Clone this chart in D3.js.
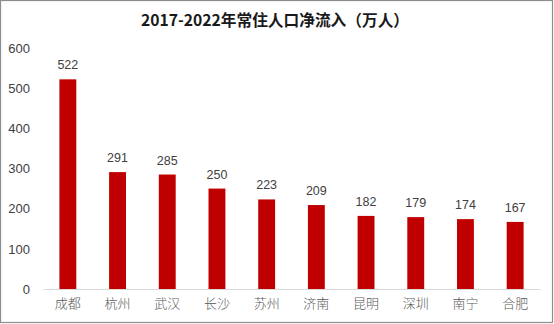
<!DOCTYPE html>
<html><head><meta charset="utf-8">
<script src="https://cdn.jsdelivr.net/npm/d3@7"></script>
<style>body{margin:0;background:#fff}svg{display:block}</style>
</head><body>
<script>
const categories = ["成都","杭州","武汉","长沙","苏州","济南","昆明","深圳","南宁","合肥"];
const values = [522,291,285,250,223,209,182,179,174,167];
const yTicks = [0,100,200,300,400,500,600];
const title = "2017-2022年常住人口净流入（万人）";

const W=554,H=324;
const svg=d3.select("body").append("svg").attr("width",W).attr("height",H);
svg.append("rect").attr("x",0.5).attr("y",0.5).attr("width",W-2).attr("height",H-2)
  .attr("fill","#fff").attr("stroke","#8c8c8c").attr("stroke-width",1.2);

const x=d3.scaleBand().domain(categories).range([43,540]).paddingInner(0.66).paddingOuter(0.33);
const y=d3.scaleLinear().domain([0,600]).range([289,48]);

svg.append("text").attr("x",141).attr("y",26).attr("text-anchor","start")
  .attr("font-family","'Noto Sans CJK SC',sans-serif").attr("font-weight","bold").attr("font-size",16).attr("fill","#1a1a1a")
  .attr("textLength",268).attr("lengthAdjust","spacingAndGlyphs").text(title);

const ya=svg.append("g").attr("transform","translate(30,0)")
  .call(d3.axisLeft(y).tickValues(yTicks).tickSize(0).tickPadding(0));
ya.select(".domain").remove();
ya.selectAll("text").attr("font-family","'Liberation Sans',Arial,sans-serif").attr("font-size",13).attr("fill","#404040");

svg.selectAll("rect.bar").data(values).enter().append("rect").attr("class","bar")
  .attr("x",(d,i)=>x(categories[i])).attr("width",x.bandwidth())
  .attr("y",d=>y(d)).attr("height",d=>y(0)-y(d)).attr("fill","#c00000");

svg.selectAll("text.val").data(values).enter().append("text").attr("class","val")
  .attr("x",(d,i)=>x(categories[i])+x.bandwidth()/2).attr("y",d=>y(d)-10)
  .attr("text-anchor","middle").attr("font-family","'Liberation Sans',Arial,sans-serif")
  .attr("font-size",12.5).attr("fill","#404040").text(d=>d);

const xa=svg.append("g").attr("transform","translate(0,289)")
  .call(d3.axisBottom(x).tickSize(0).tickPadding(10));
xa.select(".domain").attr("stroke","#d9d9d9");
xa.selectAll("text").attr("font-family","'Noto Sans CJK SC',sans-serif").attr("font-weight",300).attr("font-size",13).attr("fill","#595959");
</script>
</body></html>
